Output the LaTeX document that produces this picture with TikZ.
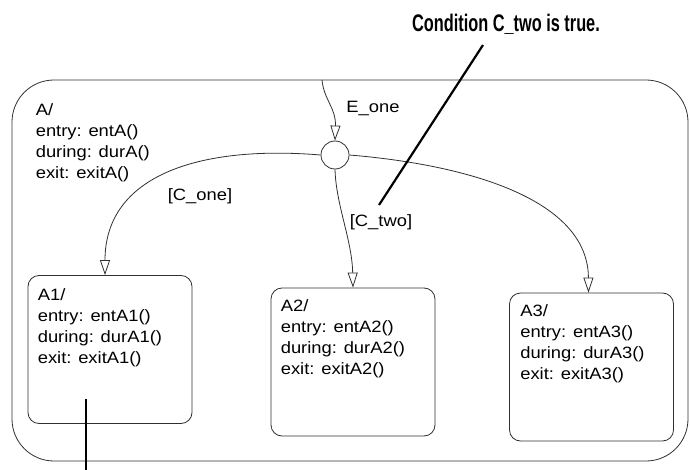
\documentclass[tikz,border=0pt]{standalone}
\usepackage{fontspec}
\usepackage{tikz}
\usetikzlibrary{arrows.meta, positioning}
\newfontfamily\chartfont{Liberation Sans}[FakeStretch=1.12]
\newfontfamily\notefont{Liberation Sans}[FakeStretch=0.68]
\definecolor{stateLine}{HTML}{303030}

\begin{document}
\begin{tikzpicture}[
    x=1pt, y=-1pt,
    superstate/.style={draw=stateLine, line width=0.8pt, rounded corners=42pt,
                       minimum width=676pt, minimum height=381pt},
    substate/.style={draw=stateLine, line width=0.8pt, rounded corners=11pt,
                     minimum width=164pt, minimum height=148pt},
    actions/.style={inner sep=0pt, align=left, anchor=north west,
                    font=\chartfont\fontsize{16.4}{21}\selectfont},
    junction/.style={draw=stateLine, line width=0.8pt, circle,
                     minimum size=28pt, inner sep=0pt},
    trans/.style={draw=stateLine, line width=0.8pt,
                  -{Triangle[open, length=15pt, width=10pt]}},
    guard/.style={inner sep=0pt, font=\chartfont\fontsize{16.4}{21}\selectfont},
    callout/.style={line width=2.2pt},
]
\useasboundingbox (0,0) rectangle (690,470);

% Superstate and its substates
\node[superstate] (a) at (350,270.5) {};
\node[actions, below right=24pt and 24pt of a.north west]
    (atext) {A/\\entry: entA()\\during: durA()\\exit: exitA()};
\node[substate] (a1) at (110,349.5) {};
\node[substate] (a2) at (353,362) {};
\node[substate] (a3) at (591.5,367) {};
\node[actions, below right=13pt and 10pt of a1.north west]
    (a1text) {A1/\\entry: entA1()\\during: durA1()\\exit: exitA1()};
\node[actions, below right=12pt and 10pt of a2.north west]
    (a2text) {A2/\\entry: entA2()\\during: durA2()\\exit: exitA2()};
\node[actions, below right=12pt and 11pt of a3.north west]
    (a3text) {A3/\\entry: entA3()\\during: durA3()\\exit: exitA3()};

% Connective junction
\node[junction] (j) at (335,155) {};

% Transitions
\coordinate (eoneStart) at (322,80);
\draw[trans] (eoneStart) .. controls (324,100) and (336,108) .. (j.north);
\draw[trans] (j.west) .. controls (200,145) and (105,175) .. ([xshift=-5pt]a1.north);
\draw[trans] (j.south) .. controls (336,205) and (352,240) .. (a2.north);
\draw[trans] (j.east) .. controls (470,165) and (588,200) .. ([xshift=-3pt]a3.north);

\node[guard] (eone) at (373,108) {E\_one};
\node[guard] (cone) at (200,196) {[C\_one]};
\node[guard] (ctwo) at (381,222) {[C\_two]};

% Callouts
\node[font=\notefont\bfseries\fontsize{24}{28}\selectfont, anchor=base, inner sep=0pt]
    (title) at (506,32) {Condition C\_two is true.};
\coordinate (noteTop) at (483,45);
\coordinate (noteEnd) at (379,205);
\draw[callout] (noteTop) -- (noteEnd);
\coordinate (pinTop) at (86,399);
\coordinate (pinEnd) at (86,470);
\draw[callout] (pinTop) -- (pinEnd);
\end{tikzpicture}
\end{document}
